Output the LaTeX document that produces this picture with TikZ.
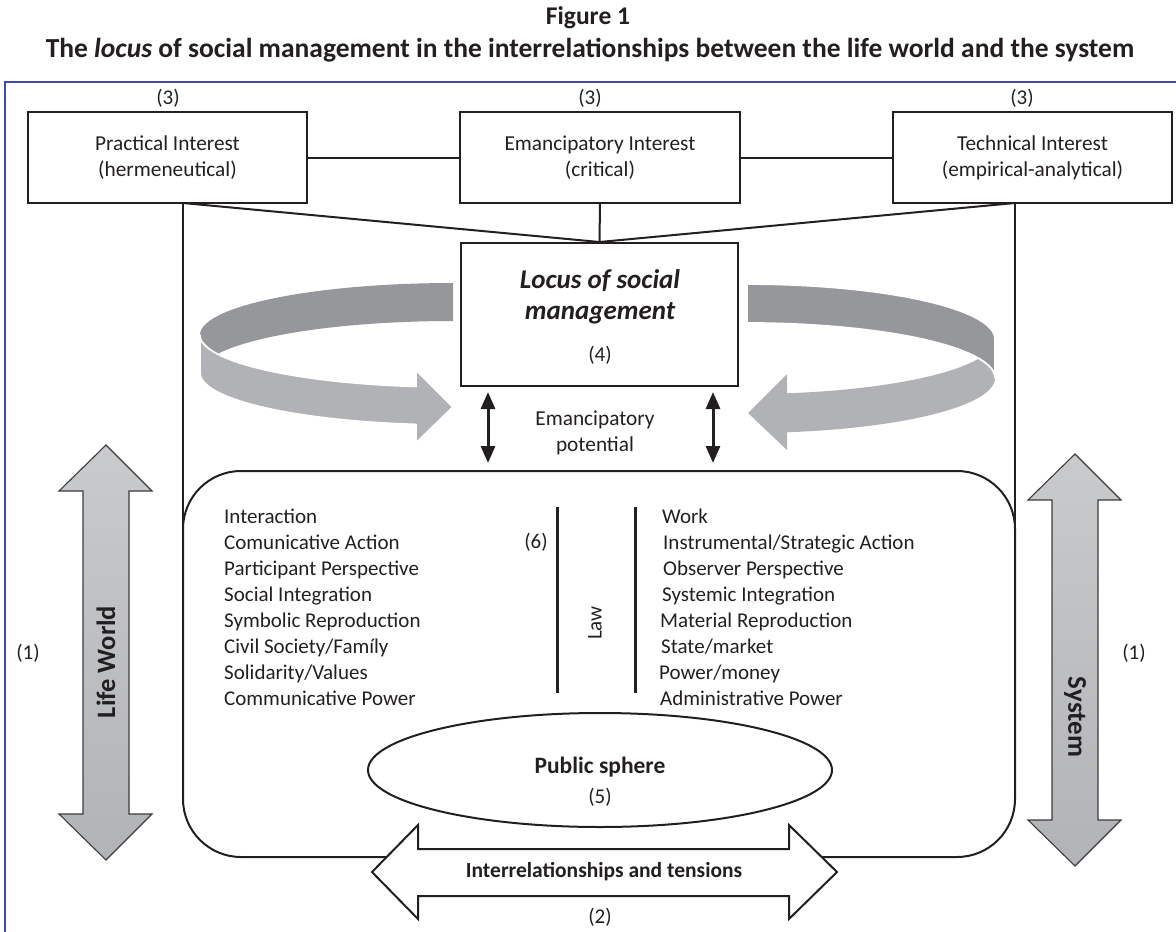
\documentclass[tikz,border=0pt]{standalone}
\usepackage{fontspec}
\setmainfont{Carlito}
\usetikzlibrary{arrows.meta,shapes.geometric}

\definecolor{ink}{HTML}{231F20}
\definecolor{frameblue}{HTML}{3E4BA8}
\definecolor{backband}{HTML}{96979B}
\definecolor{frontband}{HTML}{B1B2B5}
\definecolor{axistop}{HTML}{C9CACC}
\definecolor{axisbot}{HTML}{B2B3B6}
\definecolor{axisline}{HTML}{3C3C3C}

\newcommand\pxsize[2]{\fontsize{#1}{#2}\selectfont}

\begin{document}
\begin{tikzpicture}[x=1pt,y=-1pt,
  txt/.style={inner sep=0pt, text=ink},
  num/.style={txt, font=\pxsize{21}{24}},
  interest/.style={draw=ink, line width=2pt, minimum width=279pt, minimum height=91pt,
    align=center, inner sep=0pt, text=ink, font=\pxsize{21.3}{26}},
  link/.style={draw=ink, line width=2pt},
  listitem/.style={txt, anchor=base west, font=\pxsize{21}{24}},
  bigaxis/.style={top color=axistop, bottom color=axisbot, draw=axisline, line width=1.1pt},
  potential/.style={draw=ink, line width=3pt, {Triangle[length=17pt,width=14pt]}-{Triangle[length=17pt,width=14pt]}}
]
\useasboundingbox (0,0) rectangle (1176,932);

% heading
\node[txt, font=\bfseries\pxsize{25.5}{28}] (fig) at (588,18) {Figure 1};
\node[txt, font=\bfseries\pxsize{27.5}{30}] (caption) at (590,50)
  {The \textit{locus} of social management in the interrelationships between the life world and the system};

% outer frame (top and left rules)
\coordinate (frameTR) at (1176,82);
\coordinate (frameTL) at (5,82);
\coordinate (frameBL) at (5,932);
\draw[frameblue, line width=1.2pt] (frameTR) -- (frameTL) -- (frameBL);

% the three knowledge interests
\node[num] (n3a) at (168,98) {(3)};
\node[num] (n3b) at (590,98) {(3)};
\node[num] (n3c) at (1022,98) {(3)};
\node[interest] (practical) at (167.5,157.5) {Practical Interest\\(hermeneutical)};
\node[interest, minimum width=280pt] (emancip) at (600,157.5) {Emancipatory Interest\\(critical)};
\node[interest] (technical) at (1032.5,157.5) {Technical Interest\\(empirical-analytical)};
\draw[link] (practical.east) -- (emancip.west);
\draw[link] (emancip.east) -- (technical.west);

% locus box
\node[draw=ink, line width=2pt, minimum width=277pt, minimum height=143pt, inner sep=0pt] (locus) at (599.5,314.5) {};
\node[txt, font=\bfseries\itshape\pxsize{27}{31}, align=center] (locustxt) at (600,297) {Locus of social\\management};
\node[num] (n4) at (600,355) {(4)};

% side rails of the management frame and links to the locus
\coordinate (railLtop) at (183,203);
\coordinate (railLbot) at (183,530);
\coordinate (railRtop) at (1015,203);
\coordinate (railRbot) at (1015,530);
\draw[link] (railLtop) -- (railLbot);
\draw[link] (railRtop) -- (railRbot);
\draw[link] (railLtop) -- (locus.north);
\draw[link] (railRtop) -- (locus.north);
\draw[link] (emancip.south) -- (locus.north);

% rotating ribbons, left side (front band laid over the back band)
\fill[backband] plot[domain=90:180,samples=60] ({453+253*cos(\x)},{335-52*sin(\x)})
  -- plot[domain=180:90,samples=60] ({453+253*cos(\x)},{373-52*sin(\x)}) -- cycle;
\filldraw[fill=frontband, draw=white, line width=1.8pt, line join=round]
  plot[domain=180:261.6,samples=60] ({453+253*cos(\x)},{335-52*sin(\x)})
  -- (416,370) -- (453,407) -- (416,443)
  -- plot[domain=261.6:180,samples=60] ({453+253*cos(\x)},{373-52*sin(\x)}) -- cycle;

% rotating ribbons, right side (back band laid over the front band)
\fill[frontband] plot[domain=360:279.3,samples=60] ({747+248*cos(\x)},{339-55*sin(\x)})
  -- (787,374) -- (748,413) -- (787,450)
  -- plot[domain=279.3:360,samples=60] ({747+248*cos(\x)},{378-55*sin(\x)}) -- cycle;
\filldraw[fill=backband, draw=white, line width=1.8pt, line join=round]
  plot[domain=90:0,samples=60] ({747+248*cos(\x)},{339-55*sin(\x)})
  -- plot[domain=0:90,samples=60] ({747+248*cos(\x)},{378-55*sin(\x)}) -- cycle;

% emancipatory potential
\coordinate (potLtop) at (488,392);
\coordinate (potLbot) at (488,463);
\coordinate (potRtop) at (713,392);
\coordinate (potRbot) at (713,463);
\draw[potential] (potLtop) -- (potLbot);
\draw[potential] (potRtop) -- (potRbot);
\node[txt, font=\pxsize{21.3}{26}, align=center] (pottxt) at (595,433) {Emancipatory\\potential};

% lifeworld / system frame
\node[draw=ink, line width=2pt, rounded corners=58pt, minimum width=832pt, minimum height=386pt, inner sep=0pt] (lawframe) at (599,664) {};

% lifeworld column
\foreach \t [count=\i from 0] in {Interaction, Comunicative Action, Participant Perspective, Social Integration,
    Symbolic Reproduction, Civil Society/Famíly, Solidarity/Values, Communicative Power}
  \node[listitem] (lw\i) at (224,{523+26*\i}) {\t};

% system column
\foreach \t/\xx [count=\i from 0] in {Work/662, Instrumental\slash Strategic Action/663, Observer Perspective/663,
    Systemic Integration/662, Material Reproduction/660, State\slash market/661, Power\slash money/659,
    Administrative Power/660}
  \node[listitem] (sy\i) at (\xx,{523+26*\i}) {\t};

% law divider
\coordinate (lawLtop) at (557,507);
\coordinate (lawLbot) at (557,693);
\coordinate (lawRtop) at (635,507);
\coordinate (lawRbot) at (635,693);
\draw[ink, line width=3pt] (lawLtop) -- (lawLbot);
\draw[ink, line width=3pt] (lawRtop) -- (lawRbot);
\node[num] (n6) at (536,542) {(6)};
\node[num, rotate=90] (law) at (595,623) {Law};

% public sphere
\node[draw=ink, line width=2pt, ellipse, minimum width=464pt, minimum height=114pt, inner sep=0pt] (public) at (600,770) {};
\node[txt, font=\bfseries\pxsize{23.5}{26}] (publictxt) at (600,767) {Public sphere};
\node[num] (n5) at (600,797) {(5)};

% interrelationships and tensions
\filldraw[fill=white, draw=ink, line width=2pt, line join=miter]
  (372,872) -- (418,825) -- (418,849) -- (789,849) -- (789,825) -- (837,872)
  -- (789,919) -- (789,896) -- (418,896) -- (418,919) -- cycle;
\node[txt, font=\bfseries\pxsize{21.5}{24}] (tension) at (604,872) {Interrelationships and tensions};
\node[num] (n2) at (600,917) {(2)};

% life world axis
\shade[bigaxis] (106,445) -- (152,491) -- (129,491) -- (129,814) -- (152,814) -- (106,860)
  -- (59,814) -- (83,814) -- (83,491) -- (59,491) -- cycle;
\node[txt, font=\bfseries\pxsize{26.5}{28}, rotate=90] (lifeworld) at (106,662) {Life World};
\node[num] (n1a) at (28,653) {(1)};

% system axis
\shade[bigaxis] (1075,454) -- (1121,500) -- (1098,500) -- (1098,820) -- (1121,820) -- (1075,866)
  -- (1028,820) -- (1052,820) -- (1052,500) -- (1028,500) -- cycle;
\node[txt, font=\bfseries\pxsize{27}{28}, rotate=-90] (system) at (1075,717) {System};
\node[num] (n1b) at (1134,653) {(1)};
\end{tikzpicture}
\end{document}
